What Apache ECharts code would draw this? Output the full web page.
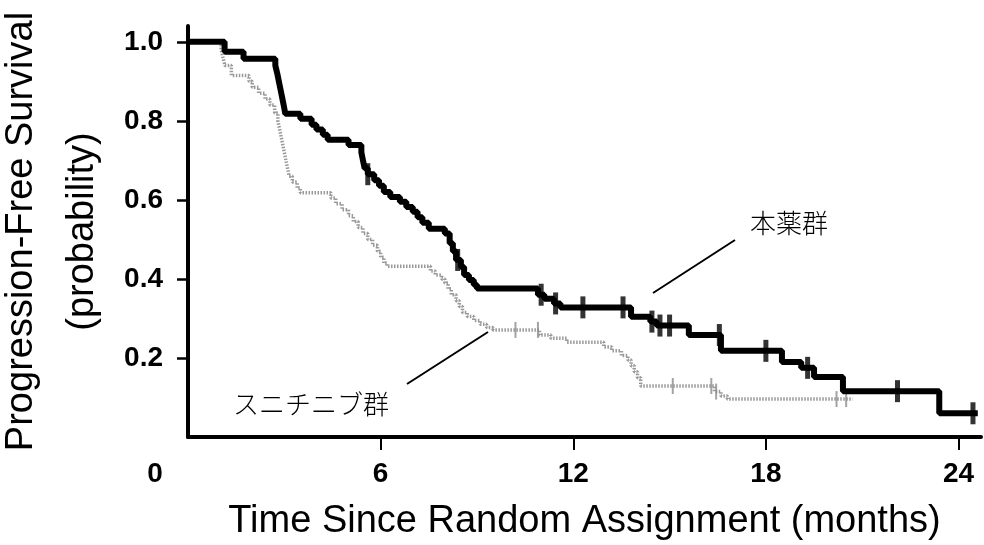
<!DOCTYPE html>
<html lang="ja">
<head>
    <meta charset="UTF-8">
    <title>Progression-Free Survival</title>
    <script src="https://cdn.jsdelivr.net/npm/echarts@6/dist/echarts.min.js"></script>
    <style>
        * {
            margin: 0;
            padding: 0;
        }

        html, body {
            width: 100%;
            height: 100%;
            overflow: hidden;
            background: #fff;
        }

        .km {
            width: 984px;
            height: 545px;
        }
    </style>
</head>
<body>
<div class="km"></div>
<script>
    // [months, probability after the step]
    let drugCurve = [
        [0, 1.0], [1.14, 0.975], [1.73, 0.957], [2.72, 0.94], [2.78, 0.92], [2.83, 0.9], [2.88, 0.88],
        [2.93, 0.86], [2.98, 0.84], [3.03, 0.818], [3.5, 0.805], [3.85, 0.79], [4.0, 0.778], [4.2, 0.765],
        [4.35, 0.752], [5.0, 0.739], [5.4, 0.72], [5.45, 0.7], [5.5, 0.68], [5.6, 0.665], [5.8, 0.65],
        [5.95, 0.636], [6.1, 0.62], [6.3, 0.607], [6.6, 0.595], [6.8, 0.582], [7.0, 0.57], [7.15, 0.556],
        [7.3, 0.542], [7.5, 0.527], [8.0, 0.515], [8.15, 0.49], [8.25, 0.47], [8.35, 0.448], [8.5, 0.43],
        [8.6, 0.41], [8.75, 0.397], [8.9, 0.385], [9.0, 0.376], [10.9, 0.36], [11.1, 0.35], [11.4, 0.338],
        [11.6, 0.328], [13.8, 0.304], [14.4, 0.292], [14.6, 0.282], [15.6, 0.258], [16.6, 0.218],
        [18.5, 0.19], [19.1, 0.175], [19.5, 0.152], [20.4, 0.116], [23.4, 0.06], [24.6, 0.06]
    ];
    let drugCensor = [
        [5.6, 0.665], [8.4, 0.448], [11.0, 0.36], [11.45, 0.338], [12.3, 0.328], [13.55, 0.328],
        [14.45, 0.292], [14.7, 0.282], [15.0, 0.282], [16.55, 0.258], [18.0, 0.218], [19.3, 0.175],
        [22.1, 0.116], [24.45, 0.06]
    ];
    let suniCurve = [
        [0, 1.0], [1.03, 0.98], [1.09, 0.96], [1.15, 0.94], [1.35, 0.915], [1.9, 0.9], [2.0, 0.885],
        [2.2, 0.87], [2.4, 0.855], [2.55, 0.84], [2.7, 0.82], [2.8, 0.8], [2.85, 0.78], [2.9, 0.76],
        [2.95, 0.74], [3.0, 0.72], [3.05, 0.7], [3.1, 0.68], [3.15, 0.66], [3.25, 0.645], [3.4, 0.63],
        [3.5, 0.618], [4.45, 0.605], [4.6, 0.59], [4.8, 0.575], [5.0, 0.56], [5.15, 0.545], [5.3, 0.53],
        [5.45, 0.515], [5.6, 0.5], [5.75, 0.485], [5.9, 0.47], [6.0, 0.455], [6.1, 0.44], [6.2, 0.432],
        [7.55, 0.42], [7.7, 0.41], [7.9, 0.4], [8.0, 0.39], [8.1, 0.375], [8.2, 0.36], [8.35, 0.345],
        [8.45, 0.33], [8.55, 0.315], [8.7, 0.305], [8.9, 0.295], [9.1, 0.285], [9.3, 0.277], [9.5, 0.271],
        [10.95, 0.258], [11.3, 0.25], [11.8, 0.24], [12.95, 0.228], [13.2, 0.218], [13.5, 0.206],
        [13.7, 0.195], [13.8, 0.18], [13.9, 0.165], [14.0, 0.15], [14.1, 0.129], [16.4, 0.115],
        [16.6, 0.104], [16.8, 0.096], [20.7, 0.096]
    ];
    let suniCensor = [
        [10.2, 0.271], [10.9, 0.271], [15.1, 0.129], [16.3, 0.129], [16.45, 0.115], [20.2, 0.096], [20.5, 0.096]
    ];
    let xTicks = [6, 12, 18, 24];
    let xLabels = [0, 6, 12, 18, 24];
    let yTicks = [0.2, 0.4, 0.6, 0.8, 1.0];

    let font = '"Liberation Sans", Arial, sans-serif';
    let jp = '"Noto Sans CJK JP", sans-serif';

    let chart = echarts.init(document.querySelector('.km'));
    let option = {
        backgroundColor: '#fff',
        animation: false,
        grid: {left: 188, right: 3, top: 26, bottom: 108, outerBoundsMode: 'none'},
        xAxis: {
            type: 'value',
            min: 0,
            max: 24.7,
            name: 'Time Since Random Assignment (months)',
            nameLocation: 'middle',
            nameGap: 66,
            nameTextStyle: {fontFamily: font, fontSize: 38, color: '#000'},
            splitLine: {show: false},
            axisLine: {lineStyle: {color: '#000', width: 4}},
            axisTick: {customValues: xTicks, length: 13, lineStyle: {color: '#000', width: 2}},
            axisLabel: {
                customValues: xLabels,
                margin: 23,
                fontFamily: font,
                fontWeight: 'bold',
                fontSize: 28,
                color: '#000',
                formatter: v => v === 0 ? '{z|0}' : String(v),
                rich: {
                    z: {fontFamily: font, fontWeight: 'bold', fontSize: 28, color: '#000', padding: [0, 66, 0, 0]}
                }
            }
        },
        yAxis: {
            type: 'value',
            min: 0,
            max: 1.04,
            name: 'Progression-Free Survival\n(probability)',
            nameLocation: 'middle',
            nameGap: 63,
            nameTextStyle: {fontFamily: font, fontSize: 38, lineHeight: 61, color: '#000'},
            splitLine: {show: false},
            axisLine: {lineStyle: {color: '#000', width: 4}},
            axisTick: {customValues: yTicks, length: 11, lineStyle: {color: '#000', width: 2.5}},
            axisLabel: {
                customValues: yTicks,
                margin: 25,
                fontFamily: font,
                fontWeight: 'bold',
                fontSize: 28,
                color: '#000',
                formatter: v => v.toFixed(1)
            }
        },
        graphic: [
            {type: 'text', left: 750, top: 210, style: {text: '本薬群', font: '300 26px ' + jp, fill: '#000'}},
            {type: 'line', shape: {x1: 653, y1: 293, x2: 735, y2: 240}, style: {stroke: '#000', lineWidth: 2}},
            {type: 'text', left: 233, top: 391, style: {text: 'スニチニブ群', font: '300 26px ' + jp, fill: '#000'}},
            {type: 'line', shape: {x1: 407, y1: 384, x2: 488, y2: 332}, style: {stroke: '#000', lineWidth: 2}}
        ],
        series: [
            {
                name: 'スニチニブ群',
                type: 'line',
                step: 'end',
                data: suniCurve,
                symbol: 'none',
                z: 2,
                lineStyle: {color: '#999', width: 3.5, type: [1.5, 1.5]}
            },
            {
                name: 'スニチニブ群 censored',
                type: 'scatter',
                data: suniCensor,
                symbol: 'rect',
                symbolSize: [2, 16],
                z: 2,
                itemStyle: {color: '#8c8c8c'}
            },
            {
                name: '本薬群',
                type: 'line',
                step: 'end',
                data: drugCurve,
                symbol: 'none',
                z: 3,
                lineStyle: {color: '#000', width: 6}
            },
            {
                name: '本薬群 censored',
                type: 'scatter',
                data: drugCensor,
                symbol: 'rect',
                symbolSize: [5, 22],
                z: 3,
                itemStyle: {color: '#000'}
            }
        ]
    };
    chart.setOption(option);
</script>
</body>
</html>
